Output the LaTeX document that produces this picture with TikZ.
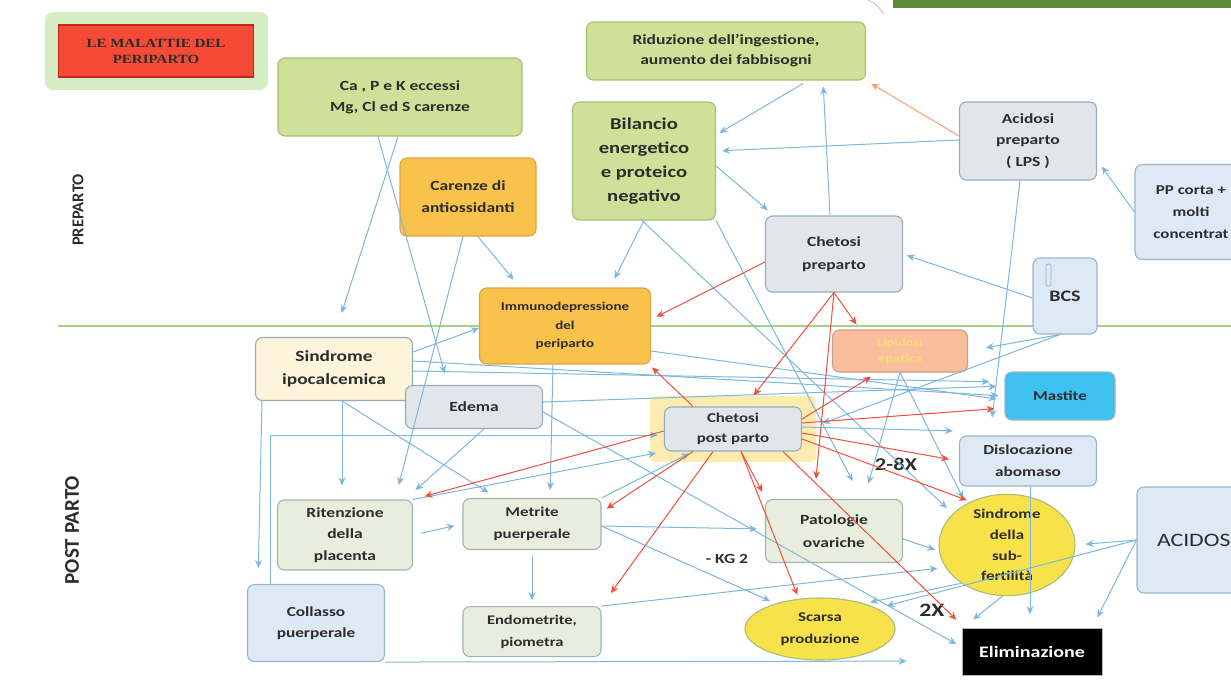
\documentclass[tikz,border=0pt]{standalone}
\usepackage{fontspec}
\setmainfont{Carlito}[FakeStretch=1.25]
\newfontfamily\phasefont{Carlito}
\newfontfamily\titlefont{Liberation Serif}[FakeStretch=1.2]
\usetikzlibrary{positioning,arrows.meta,shapes.geometric}

\definecolor{leafgreen}{RGB}{207,224,152}
\definecolor{leafedge}{RGB}{165,192,118}
\definecolor{amber}{RGB}{249,194,74}
\definecolor{amberedge}{RGB}{218,165,70}
\definecolor{ashgray}{RGB}{226,230,234}
\definecolor{ashedge}{RGB}{150,172,188}
\definecolor{paleblue}{RGB}{221,233,244}
\definecolor{paleedge}{RGB}{152,182,206}
\definecolor{cream}{RGB}{253,244,220}
\definecolor{salmon}{RGB}{251,190,156}
\definecolor{salmonedge}{RGB}{200,160,140}
\definecolor{faintyellow}{RGB}{246,222,120}
\definecolor{skycyan}{RGB}{62,193,238}
\definecolor{sage}{RGB}{233,237,221}
\definecolor{sageedge}{RGB}{160,182,172}
\definecolor{yolk}{RGB}{248,226,76}
\definecolor{lineblue}{RGB}{125,183,222}
\definecolor{linered}{RGB}{238,80,62}
\definecolor{lineorange}{RGB}{245,160,115}
\definecolor{inkgray}{RGB}{45,45,45}
\definecolor{slidegreen}{RGB}{92,138,58}
\definecolor{phasegreen}{RGB}{168,208,141}
\definecolor{titlered}{RGB}{244,74,54}
\definecolor{titleedge}{RGB}{190,40,28}
\definecolor{titleglow}{RGB}{214,236,196}
\definecolor{chglow}{RGB}{252,236,176}

\tikzset{
  plainbox/.style={draw, rounded corners=7pt, line width=1.1pt, align=center, text=inkgray,
    font=\bfseries\fontsize{14}{21.5}\selectfont, inner sep=2pt},
  greenbox/.style={plainbox, fill=leafgreen, draw=leafedge},
  amberbox/.style={plainbox, fill=amber, draw=amberedge},
  graybox/.style={plainbox, fill=ashgray, draw=ashedge},
  bluebox/.style={plainbox, fill=paleblue, draw=paleedge},
  sagebox/.style={plainbox, fill=sage, draw=sageedge},
  oval/.style={ellipse, draw=leafedge, fill=yolk, line width=1.1pt, align=center, text=inkgray,
    font=\bfseries\fontsize{13.5}{20.7}\selectfont, inner sep=0pt},
  tag/.style={text=inkgray, font=\bfseries\fontsize{18}{18}\selectfont},
  phase/.style={rotate=90, text=inkgray, font=\phasefont\bfseries\fontsize{16.5}{16.5}\selectfont},
  bl/.style={draw=lineblue, line width=1pt, -{Stealth[length=8pt,width=7pt]}},
  rd/.style={draw=linered, line width=1pt, -{Stealth[length=8pt,width=7pt]}},
}

\begin{document}
\begin{tikzpicture}[x=1pt, y=-1pt]
\useasboundingbox (0,0) rectangle (1231,694);
\clip (0,0) rectangle (1231,694);

% slide decorations
\fill[slidegreen] (893,0) rectangle (1231,8);
\draw[gray!50, line width=0.8pt] (868,0) .. controls (876,4) .. (884,14);

% title
\fill[titleglow, rounded corners=8pt] (45,12) rectangle (268,90);
\node[fill=titlered, draw=titleedge, line width=1.6pt, minimum width=195pt, minimum height=52pt,
  align=center, text=inkgray, font=\titlefont\bfseries\fontsize{12.5}{16}\selectfont] (title) at (156,51)
  {LE MALATTIE DEL\\PERIPARTO};

% phases
\draw[phasegreen, line width=1.3pt] (58,326) -- (1231,326);
\node[phase] (preparto) at (78,210) {PREPARTO};
\node[phase, font=\phasefont\bfseries\fontsize{21}{21}\selectfont] (postparto) at (72,530) {POST PARTO};

% preparto
\node[greenbox, minimum width=244pt, minimum height=78pt, font=\bfseries\fontsize{14}{21}\selectfont] (ca) at (400,97)
  {Ca , P e K eccessi\\Mg, Cl ed S carenze};
\node[greenbox, minimum width=279pt, minimum height=58pt, font=\bfseries\fontsize{14}{20}\selectfont] (rid) at (726,51)
  {Riduzione dell’ingestione,\\aumento dei fabbisogni};
\node[greenbox, minimum width=143pt, minimum height=118pt, font=\bfseries\fontsize{16.5}{24}\selectfont] (bil) at (644,161)
  {Bilancio\\energetico\\e proteico\\negativo};
\node[amberbox, minimum width=136pt, minimum height=78pt, font=\bfseries\fontsize{14}{22}\selectfont] (car) at (468,197)
  {Carenze di\\antiossidanti};
\node[graybox, minimum width=137pt, minimum height=78pt] (acp) at (1028,141) {Acidosi\\preparto\\( LPS )};
\node[bluebox, minimum width=112pt, minimum height=95pt, font=\bfseries\fontsize{13.5}{22}\selectfont] (pp) at (1191,212)
  {PP corta +\\molti\\concentrat};
\node[graybox, minimum width=137pt, minimum height=76pt, font=\bfseries\fontsize{14}{23}\selectfont] (chp) at (834,254)
  {Chetosi\\preparto};
\node[bluebox, minimum width=64pt, minimum height=76pt, font=\bfseries\fontsize{16}{16}\selectfont] (bcs) at (1065,296) {\\[-4pt]BCS};
\draw[paleedge, fill=paleblue, line width=0.8pt, rounded corners=1.5pt] (1046,264) rectangle (1051,286);
\node[amberbox, minimum width=171pt, minimum height=76pt, font=\bfseries\fontsize{12}{18.5}\selectfont] (imm) at (565,326)
  {Immunodepressione\\del\\periparto};

% post parto
\node[plainbox, fill=salmon, draw=salmonedge, minimum width=135pt, minimum height=42pt, text=faintyellow,
  font=\bfseries\fontsize{11.5}{16}\selectfont] (lip) at (900,351) {Lipidosi\\epatica};
\node[plainbox, fill=cream, draw=ashedge, minimum width=157pt, minimum height=63pt, font=\bfseries\fontsize{15.5}{23}\selectfont] (sip) at (334,369)
  {Sindrome\\ipocalcemica};
\node[graybox, minimum width=137pt, minimum height=43pt] (ede) at (474,407) {Edema};
\node[plainbox, fill=skycyan, draw=paleedge, minimum width=110pt, minimum height=48pt, font=\bfseries\fontsize{13.5}{16}\selectfont] (mas) at (1060,396) {Mastite};
\fill[chglow, rounded corners=5pt] (650,396) rectangle (816,462);
\node[graybox, minimum width=137pt, minimum height=44pt, font=\bfseries\fontsize{13.5}{20}\selectfont] (chpp) at (733,429) {Chetosi\\post parto};
\node[bluebox, minimum width=137pt, minimum height=50pt, font=\bfseries\fontsize{13.8}{22}\selectfont] (dis) at (1028,461) {Dislocazione\\abomaso};
\node[sagebox, minimum width=135pt, minimum height=70pt] (rit) at (345,535) {Ritenzione\\della\\placenta};
\node[sagebox, minimum width=138pt, minimum height=51pt, font=\bfseries\fontsize{13.5}{22}\selectfont] (met) at (532,524) {Metrite\\puerperale};
\node[sagebox, minimum width=138pt, minimum height=50pt, below=56pt of met, font=\bfseries\fontsize{13.2}{22}\selectfont] (endo) {Endometrite,\\piometra};
\node[sagebox, minimum width=137pt, minimum height=63pt, font=\bfseries\fontsize{14}{23}\selectfont] (pat) at (834,531) {Patologie\\ovariche};
\node[oval, minimum width=136pt, minimum height=90pt] (sub) at (1007,545) {Sindrome\\della\\sub-\\fertilità};
\node[bluebox, minimum width=112pt, minimum height=106pt, text width=72pt, align=left,
  font=\fontsize{19}{20}\selectfont] (aci) at (1193,540) {ACIDOS};
\node[bluebox, minimum width=137pt, minimum height=77pt, font=\bfseries\fontsize{13.8}{21}\selectfont] (col) at (316,623) {Collasso\\puerperale};
\node[oval, minimum width=150pt, minimum height=62pt, font=\bfseries\fontsize{13.4}{22}\selectfont] (sca) at (820,629) {Scarsa\\produzione};
\node[fill=black, draw=gray!60, line width=0.8pt, minimum width=140pt, minimum height=47pt, text=white,
  font=\bfseries\fontsize{16}{18}\selectfont] (eli) at (1032,652) {Eliminazione};

\node[tag] (t28) at (896,464) {2-8X};
\node[tag, font=\bfseries\fontsize{14}{14}\selectfont] (tkg) at (727,559) {- KG 2};
\node[tag, font=\bfseries\fontsize{19}{19}\selectfont] (t2x) at (932,610) {2X};

% blue links
\draw[bl, shorten >=25pt] ([xshift=-2pt]ca.south) -- (sip.north);
\draw[bl, shorten >=12pt] ([xshift=-22pt]ca.south) -- ([xshift=-26pt]ede.north);
\draw[bl, shorten >=10pt] ([xshift=10pt]car.south) -- ([xshift=-45pt]imm.north);
\draw[bl, shorten >=15pt] ([xshift=-5pt]car.south) -- ([xshift=50pt]rit.north);
\draw[bl, shorten >=10pt] (bil.south) -- ([xshift=45pt]imm.north);
\draw[bl, shorten >=8pt] ([yshift=-5pt]bil.east) -- ([xshift=-60pt]chp.north);
\draw[bl, shorten <=6pt, shorten >=4pt] ([xshift=82pt]rid.south) -- ([yshift=26pt]bil.east);
\draw[bl, shorten >=6pt] ([xshift=-4pt]chp.north) -- ([xshift=97pt]rid.south);
\draw[bl, shorten >=6pt] ([yshift=1pt]acp.west) -- ([yshift=10pt]bil.east);
\draw[draw=lineorange, line width=1pt, -{Stealth[length=8pt,width=7pt]}, shorten >=6pt] ([yshift=5pt]acp.west) -- (rid.south east);
\draw[bl, shorten >=8pt] (pp.west) -- ([yshift=-19pt]acp.east);
\draw[bl, shorten >=4pt] ([yshift=-2pt]bcs.west) -- (chp.east);
\draw[bl, shorten >=18pt] ([xshift=-8pt]acp.south) -- ([xshift=-38pt]dis.north);
\draw[bl, shorten >=18pt] ([xshift=-5pt]bcs.south) -- (lip.east);
\draw[bl, shorten >=22pt] ([xshift=-5pt]bcs.south) -- ([yshift=-2pt]chpp.east);
\draw[bl] ([yshift=17pt]sip.east) -- ([yshift=-2pt]imm.west);
\draw[bl, shorten >=6pt] ([yshift=8pt]sip.east) -- (mas.west);
\draw[bl, shorten >=15pt] ([yshift=-2pt]sip.east) -- ([yshift=14pt]mas.west);
\draw[bl, shorten >=8pt] ([yshift=-25pt]imm.east) -- ([yshift=-4pt]mas.west);
\draw[bl, shorten >=8pt] ([yshift=5pt]ede.east) -- ([yshift=10pt]mas.west);
\draw[bl, shorten >=6pt] ([yshift=2pt]chpp.east) -- ([yshift=30pt]dis.west);
\draw[bl, shorten >=6pt] ([yshift=-5pt]ede.east) -- ([yshift=5pt]eli.west);
\draw[bl, shorten >=14pt] ([xshift=10pt]ede.south) -- ([xshift=60pt]rit.north);
\draw[bl, shorten >=8pt] ([xshift=-12pt]imm.south) -- ([xshift=18pt]met.north);
\draw[bl, shorten >=14pt] ([xshift=8pt]sip.south) -- ([xshift=-3pt]rit.north);
\draw[bl, shorten >=10pt] ([xshift=8pt]sip.south) -- ([xshift=-35pt]met.north);
\draw[bl, shorten >=16pt] ([xshift=-72pt]sip.south) -- ([xshift=-58pt]col.north);
\draw[bl, shorten >=6pt] ([xshift=-46pt]col.north) |- ([yshift=-6pt]chpp.west);
\draw[bl, shorten >=55pt] (col.south east) -- ([yshift=-9pt]eli.west);
\draw[bl, shorten <=8pt, shorten >=8pt] (rit.east) -- (met.west);
\draw[bl, shorten <=6pt, shorten >=6pt] (met.south) -- (endo.north);
\draw[bl, shorten >=8pt] (rit.north east) -- (chpp.south west);
\draw[bl, shorten >=4pt] (met.north east) -- ([xshift=-40pt]chpp.south);
\draw[bl, shorten >=8pt] ([yshift=-2pt]met.east) -- ([yshift=2pt]pat.west);
\draw[bl, shorten >=6pt] ([yshift=-2pt]met.east) -- (sca.150);
\draw[bl, shorten >=8pt] (endo.north east) -- (sub.200);
\draw[bl, shorten >=4pt] ([yshift=-8pt]pat.east) -- (sub.185);
\draw[bl, shorten >=6pt] (sub.220) -- (sca.30);
\draw[bl, shorten >=14pt] (sub.265) -- ([xshift=-70pt]eli.north);
\draw[bl, shorten >=14pt] ([xshift=2pt]dis.south) -- ([xshift=-2pt]eli.north);
\draw[bl, shorten >=10pt] (aci.west) -- (sub.east);
\draw[bl, shorten >=12pt] (aci.west) -- ([xshift=60pt]eli.north);
\draw[bl, shorten >=10pt] (aci.west) -- (sca.20);
\draw[bl, shorten >=16pt] (lip.south) -- ([xshift=30pt]pat.north);
\draw[bl, shorten >=6pt] (lip.south) -- (sub.135);
\draw[bl, shorten >=20pt] (bil.south east) -- ([xshift=28pt]pat.north);
\draw[bl, shorten >=8pt] ([xshift=-2pt]bil.south) -- (sub.150);

% red links
\draw[rd, shorten >=6pt] ([yshift=-8pt]chp.west) -- ([yshift=-32pt]imm.north east);
\draw[rd, shorten >=6pt] (chp.south) -- ([xshift=-40pt]lip.north);
\draw[rd, shorten >=14pt] (chp.south) -- ([xshift=12pt]chpp.north);
\draw[rd, shorten >=20pt] (chp.south) -- ([xshift=-20pt]pat.north);
\draw[rd, shorten >=4pt] ([xshift=-40pt]chpp.north) -- ([xshift=-2pt]imm.south east);
\draw[rd, shorten >=12pt] ([yshift=-2pt]chpp.west) -- (rit.north east);
\draw[rd, shorten >=6pt] ([xshift=-40pt]chpp.south) -- ([yshift=12pt]met.east);
\draw[rd, shorten >=16pt] ([xshift=-20pt]chpp.south) -- (endo.north east);
\draw[rd, shorten >=8pt] ([xshift=8pt]chpp.south) -- ([xshift=-68pt]pat.north);
\draw[rd, shorten >=4pt] ([xshift=8pt]chpp.south) -- (sca.125);
\draw[rd, shorten >=12pt] ([xshift=50pt]chpp.south) -- ([xshift=-67pt]eli.north);
\draw[rd, shorten >=4pt] ([yshift=-10pt]chpp.east) -- (sub.130);
\draw[rd, shorten >=10pt] ([yshift=-4pt]chpp.east) -- (dis.west);
\draw[rd, shorten >=10pt] ([yshift=6pt]chpp.east) -- ([yshift=-12pt]mas.west);
\draw[rd, shorten >=8pt] ([yshift=10pt]chpp.east) -- ([xshift=-22pt]lip.south);
\end{tikzpicture}
\end{document}
